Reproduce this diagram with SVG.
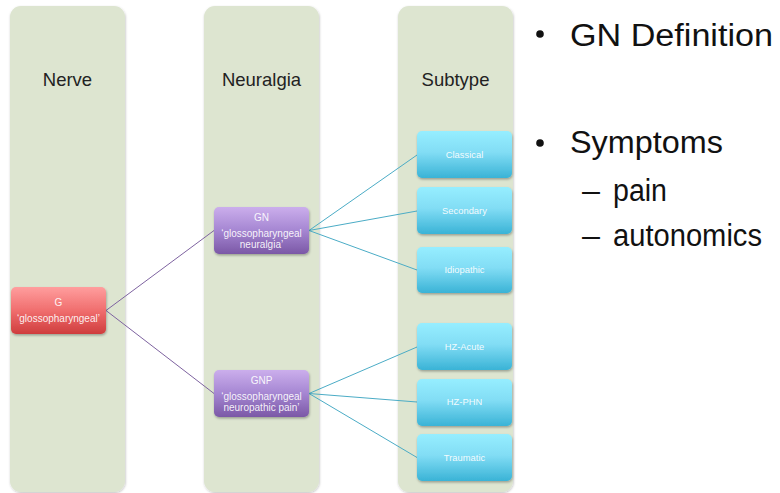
<svg xmlns="http://www.w3.org/2000/svg" width="780" height="493" viewBox="0 0 780 493">
<defs>
<linearGradient id="gRed" x1="0" y1="0" x2="0" y2="1"><stop offset="0" stop-color="#FF9E9E"/><stop offset="0.5" stop-color="#F06E6E"/><stop offset="1" stop-color="#CF3D3D"/></linearGradient>
<linearGradient id="gPur" x1="0" y1="0" x2="0" y2="1"><stop offset="0" stop-color="#CBAEEC"/><stop offset="0.5" stop-color="#A586D2"/><stop offset="1" stop-color="#7B58A6"/></linearGradient>
<linearGradient id="gBlu" x1="0" y1="0" x2="0" y2="1"><stop offset="0" stop-color="#96EEFF"/><stop offset="0.45" stop-color="#82DDF5"/><stop offset="1" stop-color="#3AB3D6"/></linearGradient>
<filter id="sh" x="-10%" y="-10%" width="125%" height="130%"><feDropShadow dx="0.6" dy="1.5" stdDeviation="1" flood-color="#000" flood-opacity="0.3"/></filter>
<filter id="shc" x="-5%" y="-2%" width="115%" height="105%"><feDropShadow dx="0.5" dy="1" stdDeviation="0.8" flood-color="#000" flood-opacity="0.25"/></filter>
</defs>
<style>
.col{fill:#DDE5D0;filter:url(#shc)}
.hd{font-family:"Liberation Sans",Arial,sans-serif;font-size:18.5px;fill:#222;text-anchor:middle}
.bx{filter:url(#sh)}
.bt{font-family:"Liberation Sans",Arial,sans-serif;font-size:10px;fill:#FFFFFF;text-anchor:middle;fill-opacity:0.92}
.st{font-family:"Liberation Sans",Arial,sans-serif;font-size:9.4px;fill:#FFFFFF;text-anchor:middle;fill-opacity:0.92}
.cp{stroke:#7E63A0;stroke-width:1;fill:none}
.ct{stroke:#4BACC6;stroke-width:1;fill:none}
.big{font-family:"Liberation Sans",Arial,sans-serif;font-size:31px;fill:#111}
</style>
<rect width="780" height="493" fill="#FFFFFF"/>
<g id="col-nerve"><rect class="col" x="10" y="6" width="115" height="486" rx="11"/><text class="hd" x="67.5" y="86">Nerve</text></g>
<g id="col-neuralgia"><rect class="col" x="204" y="6" width="115" height="486" rx="11"/><text class="hd" x="261.5" y="86">Neuralgia</text></g>
<g id="col-subtype"><rect class="col" x="398" y="6" width="115" height="486" rx="11"/><text class="hd" x="455.5" y="86">Subtype</text></g>
<g id="connectors">
<line class="cp" x1="106" y1="310.5" x2="214" y2="230.5"/>
<line class="cp" x1="106" y1="310.5" x2="214" y2="393.5"/>
<line class="ct" x1="309" y1="230.5" x2="417" y2="155"/>
<line class="ct" x1="309" y1="230.5" x2="417" y2="211"/>
<line class="ct" x1="309" y1="230.5" x2="417" y2="270"/>
<line class="ct" x1="309" y1="393.5" x2="417" y2="347"/>
<line class="ct" x1="309" y1="393.5" x2="417" y2="402"/>
<line class="ct" x1="309" y1="393.5" x2="417" y2="457.5"/>
</g>
<g id="node-g"><rect class="bx" x="11" y="287" width="95" height="47" rx="5" fill="url(#gRed)"/><text class="bt" x="58.5" y="306">G</text><text class="bt" x="58.5" y="322">‘glossopharyngeal’</text></g>
<g id="node-gn"><rect class="bx" x="214" y="207" width="95" height="47" rx="5" fill="url(#gPur)"/><text class="bt" x="261.5" y="220.5">GN</text><text class="bt" x="261.5" y="236.5">‘glossopharyngeal</text><text class="bt" x="261.5" y="247.5">neuralgia’</text></g>
<g id="node-gnp"><rect class="bx" x="214" y="370" width="95" height="47" rx="5" fill="url(#gPur)"/><text class="bt" x="261.5" y="383.5">GNP</text><text class="bt" x="261.5" y="399.5">‘glossopharyngeal</text><text class="bt" x="261.5" y="410.5">neuropathic pain’</text></g>
<g id="node-classical"><rect class="bx" x="417" y="131" width="95" height="47" rx="5" fill="url(#gBlu)"/><text class="st" x="464.5" y="158">Classical</text></g>
<g id="node-secondary"><rect class="bx" x="417" y="187" width="95" height="47" rx="5" fill="url(#gBlu)"/><text class="st" x="464.5" y="214">Secondary</text></g>
<g id="node-idiopathic"><rect class="bx" x="417" y="247" width="95" height="46" rx="5" fill="url(#gBlu)"/><text class="st" x="464.5" y="273">Idiopathic</text></g>
<g id="node-hzacute"><rect class="bx" x="417" y="323" width="95" height="47" rx="5" fill="url(#gBlu)"/><text class="st" x="464.5" y="350">HZ-Acute</text></g>
<g id="node-hzphn"><rect class="bx" x="417" y="379" width="95" height="47" rx="5" fill="url(#gBlu)"/><text class="st" x="464.5" y="405">HZ-PHN</text></g>
<g id="node-traumatic"><rect class="bx" x="417" y="434" width="95" height="47" rx="5" fill="url(#gBlu)"/><text class="st" x="464.5" y="461">Traumatic</text></g>
<g id="bullets">
<circle cx="540" cy="34" r="3.8" fill="#111"/>
<text class="big" x="570" y="46" textLength="203" lengthAdjust="spacingAndGlyphs">GN Definition</text>
<circle cx="540" cy="143" r="3.8" fill="#111"/>
<text class="big" x="570" y="153" textLength="153" lengthAdjust="spacingAndGlyphs">Symptoms</text>
<text class="big" x="582" y="201" font-size="29" textLength="18" lengthAdjust="spacingAndGlyphs">–</text>
<text class="big" x="613" y="201" font-size="28" textLength="54" lengthAdjust="spacingAndGlyphs">pain</text>
<text class="big" x="582" y="246" font-size="29" textLength="18" lengthAdjust="spacingAndGlyphs">–</text>
<text class="big" x="613" y="246" font-size="28" textLength="149" lengthAdjust="spacingAndGlyphs">autonomics</text>
</g>
</svg>
